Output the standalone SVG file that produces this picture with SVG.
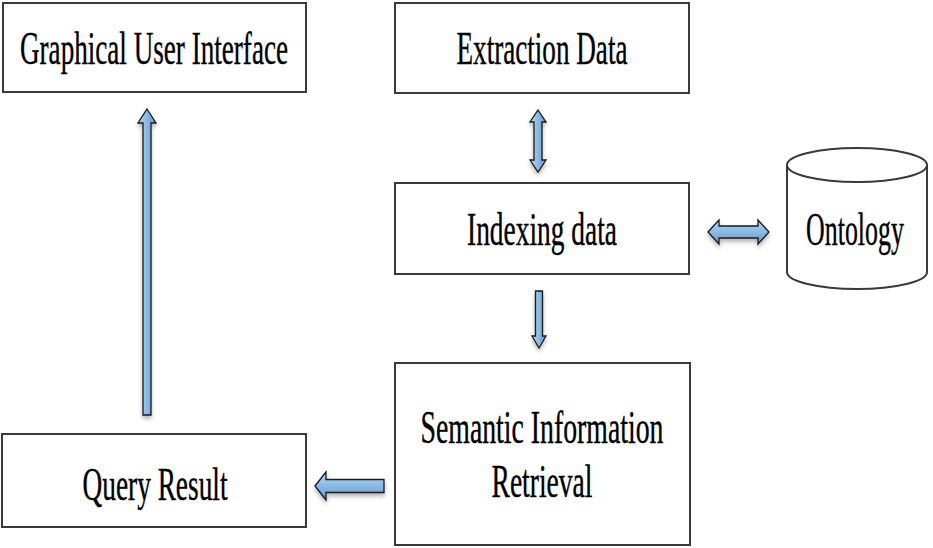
<svg xmlns="http://www.w3.org/2000/svg" width="933" height="548" viewBox="0 0 933 548">
<defs>
<linearGradient id="gv" x1="0" y1="0" x2="1" y2="0"><stop offset="0" stop-color="#b9d7f3"/><stop offset="1" stop-color="#5d9ad3"/></linearGradient>
<linearGradient id="gh" x1="0" y1="0" x2="0" y2="1"><stop offset="0" stop-color="#b9d7f3"/><stop offset="1" stop-color="#5d9ad3"/></linearGradient>
<filter id="sh" x="-20%" y="-20%" width="140%" height="150%"><feGaussianBlur in="SourceAlpha" stdDeviation="2"/><feOffset dx="0" dy="3"/><feComponentTransfer><feFuncA type="linear" slope="0.3"/></feComponentTransfer><feMerge><feMergeNode/><feMergeNode in="SourceGraphic"/></feMerge></filter>
</defs>
<style>
.box{fill:#fff;stroke:#3a3a3a;stroke-width:2}
.t{font-family:"Liberation Serif","DejaVu Serif",serif;font-size:46px;fill:#000;stroke:#000;stroke-width:0.4;text-anchor:middle}
.av{fill:url(#gv);stroke:#1a1a1a;stroke-width:1.3;stroke-linejoin:miter}
.ah{fill:url(#gh);stroke:#1a1a1a;stroke-width:1.3;stroke-linejoin:miter}
</style>
<rect width="933" height="548" fill="#fff"/>
<g id="gui"><rect class="box" x="3" y="3" width="303" height="89"/><text class="t" x="154" y="64" textLength="268" lengthAdjust="spacingAndGlyphs">Graphical User Interface</text></g>
<g id="extraction"><rect class="box" x="395" y="3" width="294" height="90"/><text class="t" x="542" y="64" textLength="171" lengthAdjust="spacingAndGlyphs">Extraction Data</text></g>
<g id="indexing"><rect class="box" x="395" y="183" width="294" height="91"/><text class="t" x="542" y="245" textLength="150" lengthAdjust="spacingAndGlyphs">Indexing data</text></g>
<g id="ontology"><path class="box" d="M787 165 L787 272 A70 17 0 0 0 927 272 L927 165"/><ellipse class="box" cx="857" cy="165" rx="70" ry="17"/><text class="t" transform="translate(855 245) scale(0.563 1)" x="0" y="0">Ontology</text></g>
<g id="semantic"><rect class="box" x="395" y="363" width="295" height="182"/><text class="t" x="542" y="443" textLength="243" lengthAdjust="spacingAndGlyphs">Semantic Information</text><text class="t" x="542" y="497" textLength="101" lengthAdjust="spacingAndGlyphs">Retrieval</text></g>
<g id="query"><rect class="box" x="2" y="434" width="304" height="93"/><text class="t" x="155" y="500" textLength="145" lengthAdjust="spacingAndGlyphs">Query Result</text></g>
<g id="connectors" filter="url(#sh)">
<path class="av" d="M147 109 L156 123 L151 123 L151 415 L143 415 L143 123 L138 123 Z"/>
<path class="av" d="M538 110 L546 122 L542 122 L542 160 L546 160 L538 172 L530 160 L534 160 L534 122 L530 122 Z"/>
<path class="av" d="M539 348 L546 336 L542.5 336 L542.5 291 L535.5 291 L535.5 336 L532 336 Z"/>
<path class="ah" d="M708 232 L719 220 L719 226 L758 226 L758 220 L769 232 L758 244 L758 238 L719 238 L719 244 Z"/>
<path class="ah" d="M315 486 L326 472 L326 479.5 L384 479.5 L384 492.5 L326 492.5 L326 500 Z"/>
</g>
</svg>
